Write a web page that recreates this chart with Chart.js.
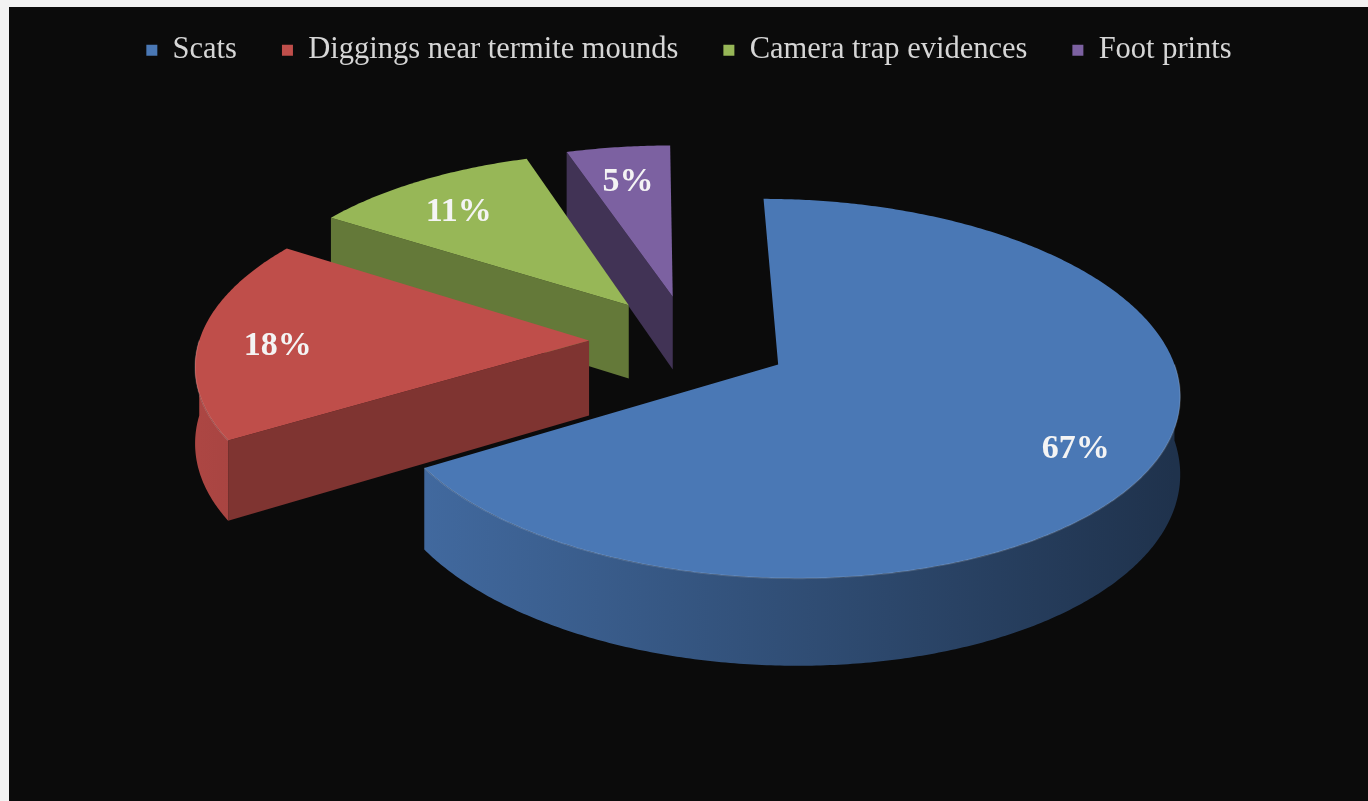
<!DOCTYPE html>
<html>
<head>
<meta charset="utf-8">
<title>Evidencias</title>
<script src="https://cdn.jsdelivr.net/npm/chart.js@4.4.1/dist/chart.umd.min.js"></script>
<style>
  html, body { margin: 0; padding: 0; }
  body { width: 1368px; height: 801px; background: #f2f2f2; overflow: hidden; position: relative; }
  #marco { position: absolute; left: 9px; top: 7px; width: 1359px; height: 794px; background: #0b0b0b; }
</style>
</head>
<body>
<div id="marco"><canvas id="grafico"></canvas></div>
<script>
// Datos

const categorias = ["Scats", "Diggings near termite mounds", "Camera trap evidences", "Foot prints"];
const porcentajes = [67, 18, 11, 5];

// Parametros de la vista 3D

const inclinacion = 0.4636; // aplastamiento vertical del plano de la torta
const distancia = 3100;     // distancia de la camara (perspectiva)
const espesor = 75;         // alto de la torta
const separacion = 100;     // cuanto se separa cada porcion del centro
const fuga = -40;           // punto de fuga respecto del centro
const bajarEtiqueta = 8;    // las etiquetas quedan un poco mas abajo

function oscurecer(hex, f) {
  const n = parseInt(hex.slice(1), 16);
  const r = Math.round(((n >> 16) & 255) * f);
  const g = Math.round(((n >> 8) & 255) * f);
  const b = Math.round((n & 255) * f);
  return `rgb(${r},${g},${b})`;
}

function proyector(cx, cy) {
  const vx = cx + fuga;
  return (X, Z, baja) => {
    const s = distancia / (distancia - Z);
    return [vx + (cx + X - vx) * s, cy + (inclinacion * Z + baja) * s];
  };
}

// punto de una porcion: angulo, radio y altura (0 = cara de arriba)
function puntoPorcion(arc, proy) {
  const medio = (arc.startAngle + arc.endAngle) / 2;
  const ox = separacion * Math.cos(medio);
  const oz = separacion * Math.sin(medio);
  return (t, rho, baja) => proy(ox + rho * Math.cos(t), oz + rho * Math.sin(t), baja);
}

function recorrerArco(ctx, P, a0, a1, r, baja, primero) {
  const pasos = Math.max(2, Math.ceil(Math.abs(a1 - a0) / 0.01));
  for (let i = 0; i <= pasos; i++) {
    const [x, y] = P(a0 + (a1 - a0) * i / pasos, r, baja);
    if (i === 0 && primero) ctx.moveTo(x, y);
    else ctx.lineTo(x, y);
  }
}

const torta3d = {
  id: "torta3d",
  beforeDatasetDraw(chart, args) {
    const ctx = chart.ctx;
    const arcos = args.meta.data;
    if (!arcos.length) return false;
    const proy = proyector(arcos[0].x, arcos[0].y);

    // de atras hacia adelante
    const orden = arcos.map((a, i) => i).sort((i, j) => {
      const zi = Math.sin((arcos[i].startAngle + arcos[i].endAngle) / 2);
      const zj = Math.sin((arcos[j].startAngle + arcos[j].endAngle) / 2);
      return zi - zj;
    });

    ctx.save();
    orden.forEach((i) => {
      const arc = arcos[i];
      const color = arc.options.backgroundColor;
      const s = arc.startAngle, e = arc.endAngle, r = arc.outerRadius;
      const P = puntoPorcion(arc, proy);

      // caras radiales que miran al frente
      [[s, -Math.cos(s), s - Math.PI / 2], [e, Math.cos(e), e + Math.PI / 2]].forEach(([a, mira, normal]) => {
        if (mira <= 0.02) return;
        ctx.beginPath();
        ctx.moveTo(...P(a, 0, 0));
        ctx.lineTo(...P(a, r, 0));
        ctx.lineTo(...P(a, r, espesor));
        ctx.lineTo(...P(a, 0, espesor));
        ctx.closePath();
        ctx.fillStyle = oscurecer(color, 0.45 + 0.25 * Math.sin(normal));
        ctx.fill();
      });

      // pared exterior (mitad delantera)
      const w0 = Math.max(s, 0), w1 = Math.min(e, Math.PI);
      if (w1 > w0) {
        ctx.beginPath();
        recorrerArco(ctx, P, w0, w1, r, 0, true);
        recorrerArco(ctx, P, w1, w0, r, espesor, false);
        ctx.closePath();
        const xIzq = P(Math.PI, r, 0)[0], xDer = P(0, r, 0)[0];
        const grad = ctx.createLinearGradient(xIzq, 0, xDer, 0);
        grad.addColorStop(0, oscurecer(color, 0.9));
        grad.addColorStop(0.5, oscurecer(color, 0.66));
        grad.addColorStop(1, oscurecer(color, 0.42));
        ctx.fillStyle = grad;
        ctx.fill();
      }

      // cara de arriba
      ctx.beginPath();
      ctx.moveTo(...P(s, 0, 0));
      recorrerArco(ctx, P, s, e, r, 0, false);
      ctx.closePath();
      ctx.fillStyle = color;
      ctx.fill();

      if (w1 > w0) {
        ctx.beginPath();
        recorrerArco(ctx, P, w0, w1, r, 0, true);
        ctx.strokeStyle = "rgba(255,255,255,0.15)";
        ctx.lineWidth = 1.5;
        ctx.stroke();
      }
    });
    ctx.restore();
    return false;
  },
  afterDatasetsDraw(chart) {
    const ctx = chart.ctx;
    const arcos = chart.getDatasetMeta(0).data;
    if (!arcos.length) return;
    const proy = proyector(arcos[0].x, arcos[0].y);
    ctx.save();
    ctx.font = 'bold 34px "Liberation Serif", "Times New Roman", serif';
    ctx.textAlign = "center";
    ctx.textBaseline = "middle";
    ctx.fillStyle = "#f4f4f4";
    arcos.forEach((arc, i) => {
      const P = puntoPorcion(arc, proy);
      const medio = (arc.startAngle + arc.endAngle) / 2;
      const [x, y] = P(medio, arc.outerRadius * 0.8, 0);
      ctx.fillText(porcentajes[i] + "%", x, y + bajarEtiqueta);
    });
    ctx.restore();
  },
};

// Genero el grafico

const ctx = document.getElementById("grafico");

const chart = new Chart(ctx, {
  type: "pie",
  data: {
    labels: categorias,
    datasets: [
      {
        data: porcentajes,
        backgroundColor: ["#4a78b5", "#bf4e4a", "#97b757", "#7c61a1"],
        borderWidth: 0,
        radius: 390,
      },
    ],
  },
  options: {
    responsive: true,
    maintainAspectRatio: false,
    animation: false,
    events: [],
    layout: {
      padding: { top: -17, bottom: 194, left: 1, right: 0 },
    },
    plugins: {
      legend: {
        position: "top",
        labels: {
          color: "#d6d6d6",
          font: { family: '"Liberation Serif", "Times New Roman", serif', size: 30.5 },
          boxWidth: 11,
          boxHeight: 11,
          padding: 45,
        },
      },
      tooltip: { enabled: false },
    },
  },
  plugins: [torta3d],
});
</script>
</body>
</html>
